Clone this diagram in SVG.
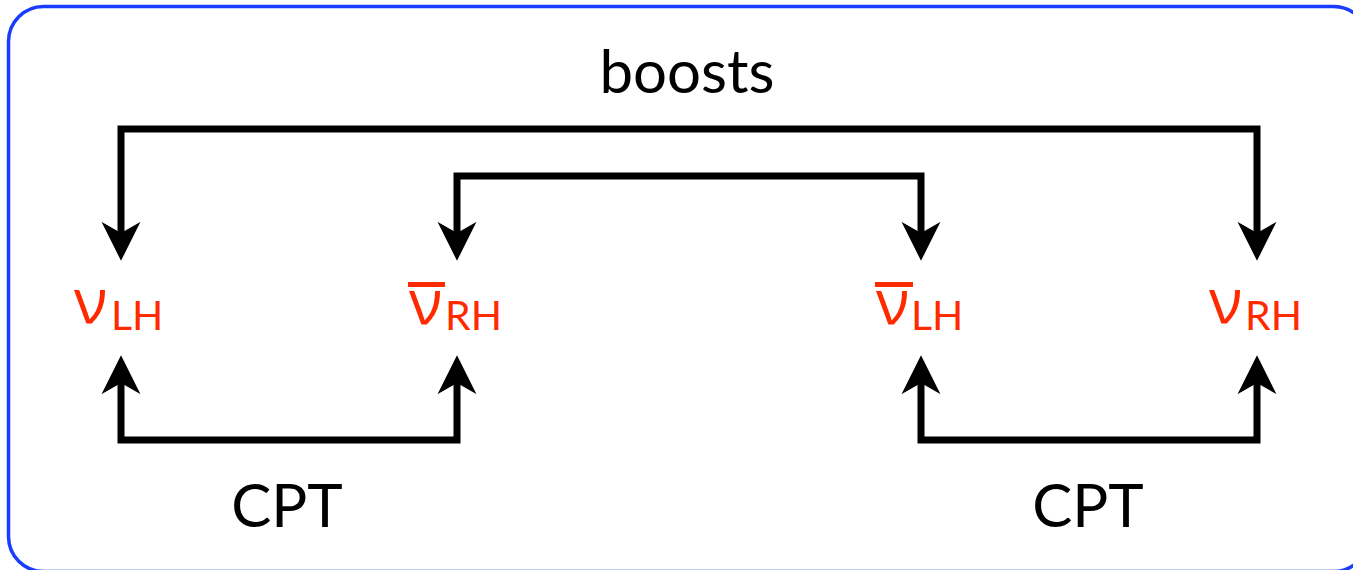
<svg xmlns="http://www.w3.org/2000/svg" width="1353" height="570" viewBox="0 0 1353 570">
<defs>
<marker id="arr" markerUnits="userSpaceOnUse" markerWidth="40" markerHeight="40" viewBox="0 -18 36 36" refX="10" refY="0" orient="auto-start-reverse">
<path d="M0,-17.5 L35,0 L0,17.5 L10,0 Z" fill="#000"/>
</marker>
</defs>
<style>
.frame{fill:#fff;stroke:#1a3cff;stroke-width:3.5}
.conn{fill:none;stroke:#000;stroke-width:7;stroke-linejoin:miter;marker-start:url(#arr);marker-end:url(#arr)}
.lbl{font-family:Lato,"Open Sans",sans-serif;fill:#000;font-size:60px;text-anchor:middle}
.nu{font-family:"Open Sans","Noto Sans",sans-serif;font-size:62px;fill:#ff2a00}
.sub{font-family:Lato,"Open Sans",sans-serif;font-size:41px;fill:#ff2a00}
.bar{fill:#ff2a00}
</style>
<rect class="frame" x="8.5" y="6.5" width="1360" height="565" rx="35" ry="35"/>
<g id="connectors">
<path class="conn" d="M121,233 V129 H1257 V233"/>
<path class="conn" d="M457,233 V176 H921 V233"/>
<path class="conn" d="M121,383 V440 H457 V383"/>
<path class="conn" d="M921,383 V440 H1257 V383"/>
</g>
<g id="boosts"><text class="lbl" x="687" y="93">boosts</text></g>
<g id="cpt-left"><text class="lbl" x="287" y="527">CPT</text></g>
<g id="cpt-right"><text class="lbl" x="1088" y="527">CPT</text></g>
<g id="nu-LH">
<text x="74" y="323"><tspan class="nu">ν</tspan><tspan class="sub" x="111" y="330">LH</tspan></text>
</g>
<g id="nubar-RH">
<rect class="bar" x="408" y="282" width="37" height="5"/>
<text x="409" y="324"><tspan class="nu">ν</tspan><tspan class="sub" x="445" y="330">RH</tspan></text>
</g>
<g id="nubar-LH">
<rect class="bar" x="875" y="282" width="38" height="5"/>
<text x="876" y="324"><tspan class="nu">ν</tspan><tspan class="sub" x="911" y="330">LH</tspan></text>
</g>
<g id="nu-RH">
<text x="1209" y="323"><tspan class="nu">ν</tspan><tspan class="sub" x="1245" y="330">RH</tspan></text>
</g>
</svg>
